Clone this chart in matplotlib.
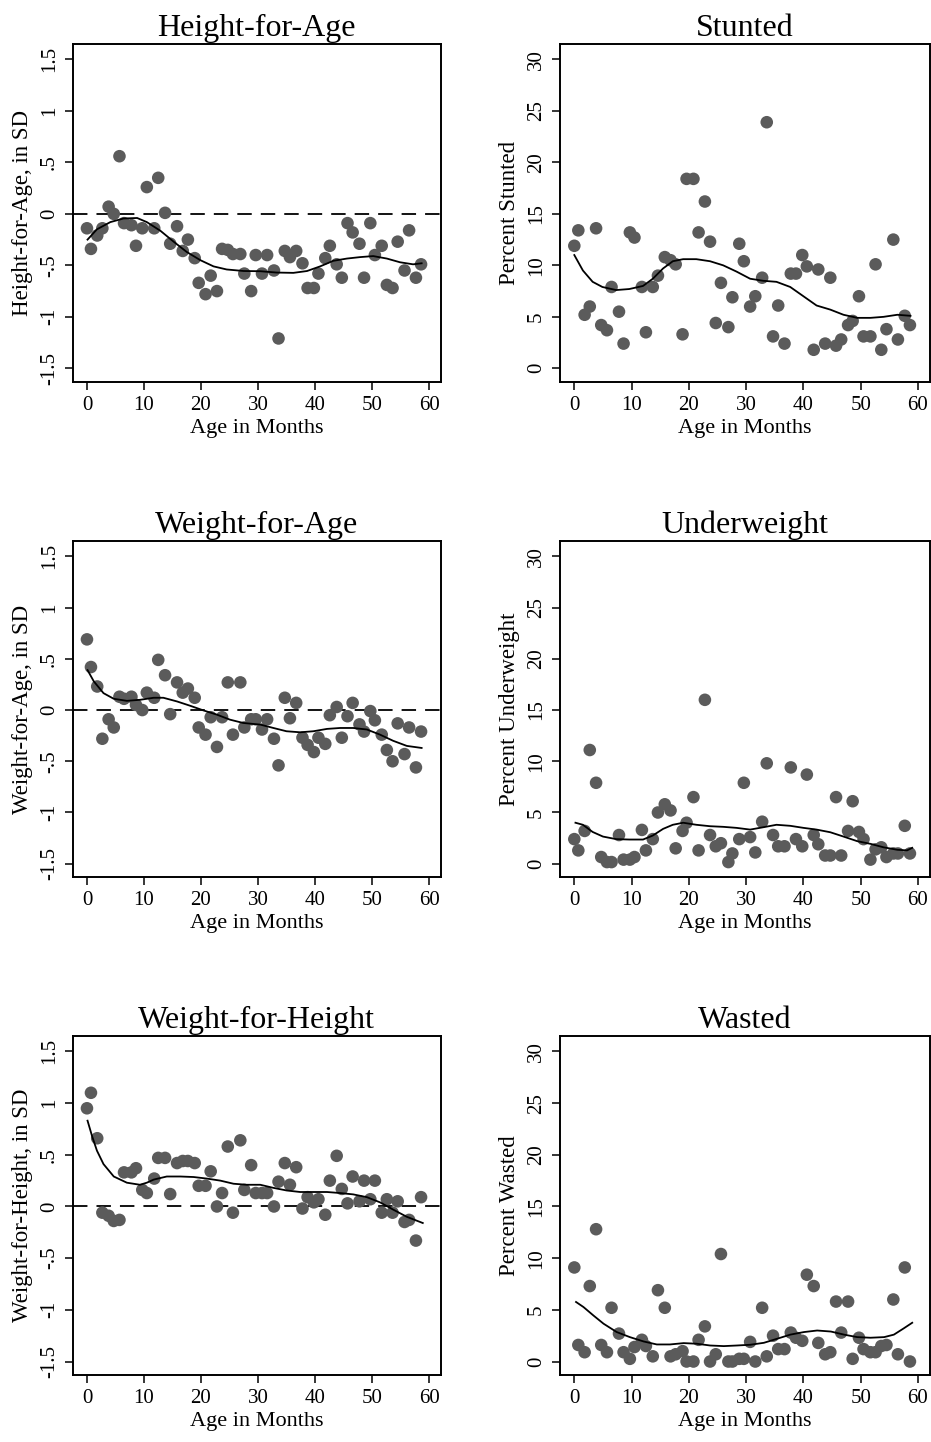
import matplotlib
matplotlib.use('Agg')
import matplotlib.pyplot as plt

plt.rcParams['font.family'] = 'serif'
plt.rcParams['font.serif'] = ['Liberation Serif', 'Times New Roman', 'DejaVu Serif']
plt.rcParams['axes.linewidth'] = 1.4
plt.rcParams['xtick.major.width'] = 1.1
plt.rcParams['ytick.major.width'] = 1.1
plt.rcParams['xtick.major.size'] = 6
plt.rcParams['ytick.major.size'] = 6

# Data: one point per month of age
age_months = [0.0, 0.7, 1.8, 2.7, 3.8, 4.7, 5.7, 6.5, 7.8, 8.6,
              9.7, 10.5, 11.8, 12.5, 13.7, 14.6, 15.8, 16.8, 17.7, 18.9,
              19.6, 20.8, 21.7, 22.8, 23.7, 24.7, 25.6, 26.9, 27.6, 28.8,
              29.6, 30.7, 31.6, 32.8, 33.6, 34.7, 35.6, 36.7, 37.8, 38.7,
              39.8, 40.6, 41.8, 42.6, 43.8, 44.7, 45.7, 46.6, 47.8, 48.6,
              49.7, 50.5, 51.7, 52.6, 53.6, 54.5, 55.7, 56.5, 57.7, 58.6]

haz = [-0.14, -0.34, -0.21, -0.14, 0.07, 0.0, 0.56, -0.09, -0.11, -0.31,
       -0.14, 0.26, -0.14, 0.35, 0.01, -0.29, -0.12, -0.36, -0.25, -0.43,
       -0.67, -0.78, -0.60, -0.75, -0.34, -0.35, -0.39, -0.39, -0.58, -0.75,
       -0.40, -0.58, -0.40, -0.55, -1.21, -0.36, -0.42, -0.36, -0.48, -0.72,
       -0.72, -0.58, -0.43, -0.31, -0.49, -0.62, -0.09, -0.18, -0.29, -0.62,
       -0.09, -0.40, -0.31, -0.69, -0.72, -0.27, -0.55, -0.16, -0.62, -0.49]
stunted = [11.9, 13.4, 5.2, 6.0, 13.6, 4.2, 3.7, 7.9, 5.5, 2.4,
           13.2, 12.7, 7.9, 3.5, 7.9, 9.0, 10.8, 10.5, 10.1, 3.3,
           18.4, 18.4, 13.2, 16.2, 12.3, 4.4, 8.3, 4.0, 6.9, 12.1,
           10.4, 6.0, 7.0, 8.8, 23.9, 3.1, 6.1, 2.4, 9.2, 9.2,
           11.0, 9.9, 1.8, 9.6, 2.4, 8.8, 2.2, 2.8, 4.2, 4.6,
           7.0, 3.1, 3.1, 10.1, 1.8, 3.8, 12.5, 2.8, 5.1, 4.2]
waz = [0.69, 0.42, 0.23, -0.28, -0.09, -0.17, 0.13, 0.11, 0.13, 0.05,
       0.0, 0.17, 0.12, 0.49, 0.34, -0.04, 0.27, 0.17, 0.21, 0.12,
       -0.17, -0.24, -0.07, -0.36, -0.07, 0.27, -0.24, 0.27, -0.17, -0.09,
       -0.09, -0.19, -0.09, -0.28, -0.54, 0.12, -0.08, 0.07, -0.27, -0.34,
       -0.41, -0.27, -0.33, -0.05, 0.03, -0.27, -0.06, 0.07, -0.14, -0.21,
       -0.01, -0.10, -0.24, -0.39, -0.50, -0.13, -0.43, -0.17, -0.56, -0.21]
underweight = [2.4, 1.3, 3.2, 11.1, 7.9, 0.65, 0.16, 0.16, 2.8, 0.4,
               0.4, 0.65, 3.3, 1.3, 2.4, 5.0, 5.8, 5.2, 1.5, 3.2,
               4.0, 6.5, 1.3, 16.0, 2.8, 1.7, 2.0, 0.16, 1.0, 2.4,
               7.9, 2.6, 1.1, 4.1, 9.8, 2.8, 1.7, 1.7, 9.4, 2.4,
               1.7, 8.7, 2.8, 1.9, 0.8, 0.8, 6.5, 0.8, 3.2, 6.1,
               3.1, 2.4, 0.4, 1.4, 1.6, 0.65, 1.0, 1.0, 3.7, 1.0]
whz = [0.95, 1.10, 0.66, -0.06, -0.09, -0.14, -0.13, 0.33, 0.33, 0.37,
       0.16, 0.13, 0.27, 0.47, 0.47, 0.12, 0.42, 0.44, 0.44, 0.42,
       0.20, 0.20, 0.34, 0.0, 0.13, 0.58, -0.06, 0.64, 0.16, 0.40,
       0.13, 0.13, 0.13, 0.0, 0.24, 0.42, 0.21, 0.38, -0.02, 0.09,
       0.04, 0.07, -0.08, 0.25, 0.49, 0.17, 0.03, 0.29, 0.05, 0.25,
       0.07, 0.25, -0.06, 0.07, -0.06, 0.05, -0.15, -0.13, -0.33, 0.09]
wasted = [9.1, 1.6, 0.9, 7.3, 12.8, 1.6, 0.9, 5.2, 2.7, 0.9,
          0.26, 1.4, 2.1, 1.5, 0.5, 6.9, 5.2, 0.5, 0.7, 1.0,
          0.0, 0.0, 2.1, 3.4, 0.0, 0.7, 10.4, 0.0, 0.0, 0.26,
          0.26, 1.9, 0.0, 5.2, 0.5, 2.5, 1.2, 1.2, 2.8, 2.3,
          2.0, 8.4, 7.3, 1.8, 0.7, 0.9, 5.8, 2.8, 5.8, 0.26,
          2.3, 1.2, 0.9, 0.9, 1.5, 1.6, 6.0, 0.7, 9.1, 0.0]

# Smoothed fits
haz_fit_x = [0.1, 1.75, 4.1, 6.4, 8.8, 10.5, 12.9, 15.2, 17.5, 19.9, 22.2, 24.5, 27.5,
             30.4, 33.3, 36.2, 38.6, 40.9, 43.2, 45.6, 47.9, 50.2, 52.6, 54.9, 57.2, 58.7]
haz_fit_y = [-0.25, -0.15, -0.08, -0.045, -0.04, -0.08, -0.165, -0.27, -0.37, -0.45, -0.51, -0.54, -0.555,
             -0.557, -0.57, -0.573, -0.555, -0.51, -0.456, -0.434, -0.42, -0.41, -0.434, -0.47, -0.49, -0.48]
stunted_fit_x = [0.0, 1.5, 3.2, 4.9, 7.3, 9.6, 12.0, 13.7, 15.5, 17.2, 19.0, 21.3, 23.7, 26.0,
                 28.3, 30.7, 33.0, 35.3, 37.7, 40.0, 42.3, 44.7, 47.0, 49.4, 51.7, 54.0, 56.4, 58.7]
stunted_fit_y = [11.0, 9.5, 8.4, 7.9, 7.6, 7.7, 8.0, 8.7, 9.7, 10.4, 10.6, 10.6, 10.4, 10.0,
                 9.4, 8.7, 8.5, 8.4, 7.9, 7.0, 6.1, 5.7, 5.2, 4.9, 4.9, 5.0, 5.2, 5.1]
waz_fit_x = [0.1, 1.2, 2.9, 4.7, 7.0, 9.3, 11.7, 13.4, 15.8, 18.1, 20.4, 22.8, 25.1, 27.4,
             30.4, 32.7, 35.0, 37.4, 39.7, 42.1, 44.4, 46.7, 49.1, 51.4, 53.7, 56.1, 58.7]
waz_fit_y = [0.39, 0.28, 0.165, 0.11, 0.09, 0.10, 0.12, 0.12, 0.084, 0.042, -0.003, -0.045, -0.094, -0.126,
             -0.142, -0.175, -0.207, -0.217, -0.207, -0.184, -0.175, -0.175, -0.19, -0.24, -0.30, -0.35, -0.37]
underweight_fit_x = [0.2, 1.5, 3.2, 5.0, 7.3, 9.6, 12.0, 13.7, 15.5, 17.2, 19.0, 21.3, 23.7, 26.0, 28.3,
                     30.7, 33.0, 35.3, 37.7, 40.0, 42.3, 44.7, 47.0, 49.4, 51.7, 54.0, 56.4, 58.1, 59.0]
underweight_fit_y = [4.0, 3.8, 3.1, 2.65, 2.4, 2.36, 2.36, 2.75, 3.4, 3.8, 4.0, 3.8, 3.66, 3.6, 3.5,
                     3.33, 3.56, 3.8, 3.7, 3.5, 3.33, 3.07, 2.65, 2.2, 1.94, 1.6, 1.36, 1.3, 1.55]
whz_fit_x = [0.1, 0.9, 1.75, 2.9, 4.7, 7.0, 9.3, 10.5, 11.7, 14.0, 16.4, 18.7, 21.0, 23.4, 25.7,
             28.0, 30.4, 32.7, 35.0, 37.4, 39.7, 42.1, 44.4, 46.7, 49.1, 51.4, 53.7, 56.1, 58.9]
whz_fit_y = [0.83, 0.68, 0.54, 0.41, 0.29, 0.23, 0.21, 0.23, 0.26, 0.29, 0.29, 0.285, 0.27, 0.25, 0.22,
             0.21, 0.21, 0.18, 0.155, 0.14, 0.14, 0.14, 0.13, 0.117, 0.09, 0.04, -0.03, -0.10, -0.16]
wasted_fit_x = [0.3, 1.6, 3.3, 5.1, 7.4, 9.7, 12.1, 14.4, 16.7, 19.1, 21.4, 23.7, 26.1, 28.4,
                30.7, 33.1, 35.4, 37.7, 40.1, 42.4, 44.8, 47.1, 49.4, 51.7, 54.1, 55.8, 57.5, 59.0]
wasted_fit_y = [5.76, 5.27, 4.47, 3.66, 2.85, 2.36, 1.94, 1.65, 1.65, 1.78, 1.72, 1.55, 1.49, 1.55,
                1.62, 1.81, 2.2, 2.6, 2.85, 3.0, 2.9, 2.6, 2.36, 2.3, 2.36, 2.6, 3.2, 3.75]

panels = [
    ('Height-for-Age', 'Height-for-Age, in SD', haz, haz_fit_x, haz_fit_y, 'sd'),
    ('Stunted', 'Percent Stunted', stunted, stunted_fit_x, stunted_fit_y, 'pct'),
    ('Weight-for-Age', 'Weight-for-Age, in SD', waz, waz_fit_x, waz_fit_y, 'sd'),
    ('Underweight', 'Percent Underweight', underweight, underweight_fit_x, underweight_fit_y, 'pct'),
    ('Weight-for-Height', 'Weight-for-Height, in SD', whz, whz_fit_x, whz_fit_y, 'sd'),
    ('Wasted', 'Percent Wasted', wasted, wasted_fit_x, wasted_fit_y, 'pct'),
]

sd_ticks = [-1.5, -1, -0.5, 0, 0.5, 1, 1.5]
sd_labels = ['-1.5', '-1', '-.5', '0', '.5', '1', '1.5']
pct_ticks = [0, 5, 10, 15, 20, 25, 30]
x_ticks = [0, 10, 20, 30, 40, 50, 60]

fig = plt.figure(figsize=(9.31, 14.42), dpi=100)

col_left = [0.0781, 0.6015]
col_width = [0.3956, 0.3974]
row_bottom = [0.7353, 0.3918, 0.0465]
row_height = [0.2342, 0.2330, 0.2351]

dot_color = '#5b5b5b'

for i, (title, ylabel, vals, fx, fy, kind) in enumerate(panels):
    r, c = divmod(i, 2)
    ax = fig.add_axes([col_left[c], row_bottom[r], col_width[c], row_height[r]])
    ax.scatter(age_months, vals, s=82, color=dot_color, edgecolors='none', zorder=3)
    ax.plot(fx, fy, color='black', linewidth=1.3, zorder=4)
    ax.set_xlim(-2.5, 62.1)
    ax.set_xticks(x_ticks)
    ax.set_xticklabels([str(t) for t in x_ticks], fontsize=15)
    if kind == 'sd':
        ax.axhline(0, color='black', linewidth=1.3, dashes=(8, 5), zorder=2)
        ax.set_ylim(-1.63, 1.65)
        ax.set_yticks(sd_ticks)
        ax.set_yticklabels(sd_labels, rotation=90, va='center', fontsize=15)
    else:
        ax.set_ylim(-1.3, 31.5)
        ax.set_yticks(pct_ticks)
        ax.set_yticklabels([str(t) for t in pct_ticks], rotation=90, va='center', fontsize=15)
    ax.set_title(title, fontsize=23, pad=6)
    ax.set_xlabel('Age in Months', fontsize=16, labelpad=3)
    ax.set_ylabel(ylabel, fontsize=16.5, labelpad=5)
    ax.tick_params(axis='x', pad=4)
    ax.tick_params(axis='y', pad=4)

fig.savefig('out.png', dpi=100, facecolor='white')
